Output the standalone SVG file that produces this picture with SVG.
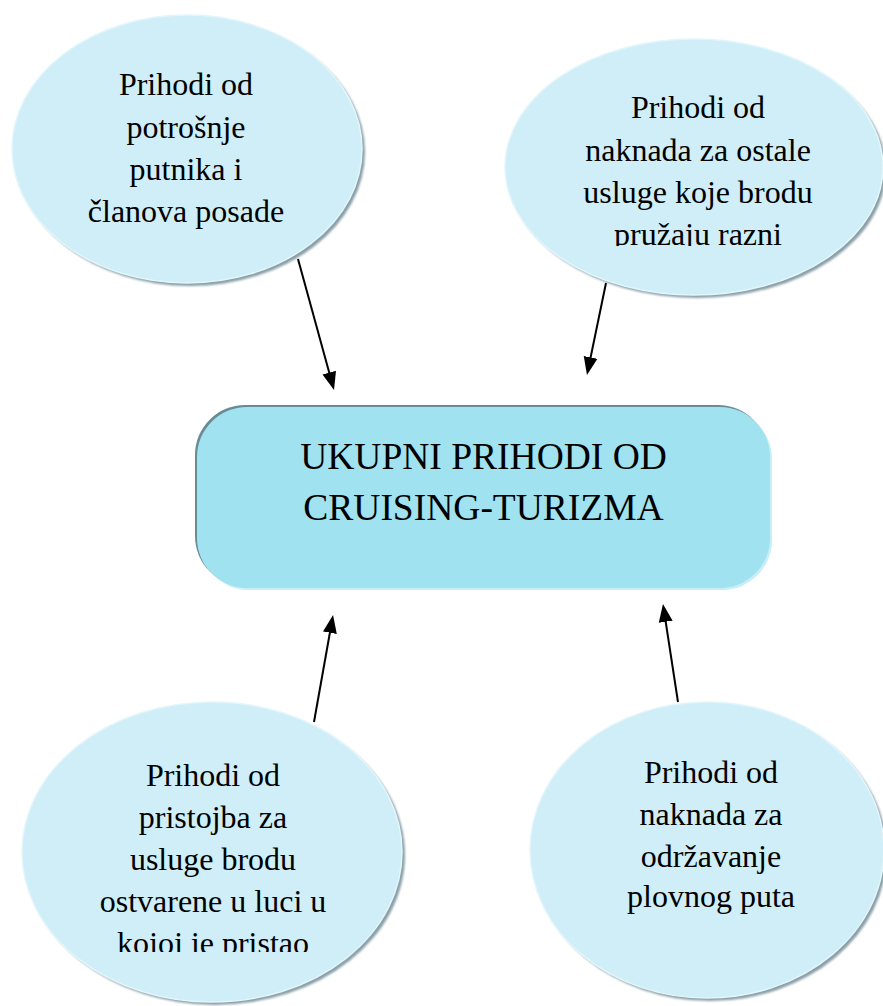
<svg xmlns="http://www.w3.org/2000/svg" width="883" height="1006" viewBox="0 0 883 1006">
<style>
.ell{fill:#CFEEF8;stroke:#E2F6FB;stroke-width:1.5}
.sh{fill:#8A9FA7}
.t{font-family:'Liberation Serif','Times New Roman',serif;font-size:32px;fill:#000;text-anchor:middle}
.tc{font-family:'Liberation Serif','Times New Roman',serif;font-size:37.5px;fill:#000;text-anchor:middle}
.con{stroke:#000;stroke-width:2;fill:none;marker-end:url(#ah)}
</style>
<defs>
<marker id="ah" markerUnits="userSpaceOnUse" markerWidth="18" markerHeight="16" refX="4" refY="7" orient="auto" viewBox="0 0 18 14">
<path d="M0,0 L18,7 L0,14 z" fill="#000"/>
</marker>
<clipPath id="c2"><rect x="480" y="0" width="403" height="246"/></clipPath>
<clipPath id="c3"><rect x="0" y="700" width="440" height="252"/></clipPath>
<filter id="blur" x="-10%" y="-10%" width="120%" height="120%"><feGaussianBlur stdDeviation="1.2"/></filter>
</defs>
<rect width="883" height="1006" fill="#fff"/>

<g id="n1">
<ellipse class="sh" cx="190" cy="152" rx="175" ry="134" filter="url(#blur)"/>
<ellipse class="ell" cx="187" cy="149" rx="175" ry="134"/>
<text class="t" x="186" y="95">Prihodi od</text>
<text class="t" x="186" y="138">potrošnje</text>
<text class="t" x="186" y="180">putnika i</text>
<text class="t" x="186" y="222">članova posade</text>
</g>

<g id="n2">
<ellipse class="sh" cx="697" cy="170" rx="189" ry="128" filter="url(#blur)"/>
<ellipse class="ell" cx="694" cy="167" rx="189" ry="128"/>
<g clip-path="url(#c2)">
<text class="t" x="698" y="118">Prihodi od</text>
<text class="t" x="698" y="161">naknada za ostale</text>
<text class="t" x="698" y="203">usluge koje brodu</text>
<text class="t" x="698" y="245">pružaju razni</text>
</g>
</g>

<g id="center">
<rect x="199" y="409" width="573" height="181" rx="50" fill="#C8EEF7"/>
<rect x="195" y="405" width="573" height="181" rx="50" fill="#688C96"/>
<rect x="197" y="407" width="573" height="181" rx="50" fill="#A0E2F0"/>
<text class="tc" x="483.5" y="469">UKUPNI PRIHODI OD</text>
<text class="tc" x="483.5" y="520">CRUISING-TURIZMA</text>
</g>

<g id="n3">
<ellipse class="sh" cx="215" cy="855" rx="190" ry="150" filter="url(#blur)"/>
<ellipse class="ell" cx="212" cy="852" rx="190" ry="150"/>
<g clip-path="url(#c3)">
<text class="t" x="213" y="786">Prihodi od</text>
<text class="t" x="213" y="828">pristojba za</text>
<text class="t" x="213" y="870">usluge brodu</text>
<text class="t" x="213" y="912">ostvarene u luci u</text>
<text class="t" x="213" y="954">kojoj je pristao</text>
</g>
</g>

<g id="n4">
<ellipse class="sh" cx="710" cy="853" rx="177" ry="148" filter="url(#blur)"/>
<ellipse class="ell" cx="707" cy="850" rx="177" ry="148"/>
<text class="t" x="711" y="783">Prihodi od</text>
<text class="t" x="711" y="825">naknada za</text>
<text class="t" x="711" y="867">održavanje</text>
<text class="t" x="711" y="907">plovnog puta</text>
</g>

<g id="connectors">
<path class="con" d="M298,259 L330.3,376.5"/>
<path class="con" d="M606,283 L589.8,361.3"/>
<path class="con" d="M314,722 L330.6,628.8"/>
<path class="con" d="M678,702 L665.1,617.8"/>
</g>
</svg>
